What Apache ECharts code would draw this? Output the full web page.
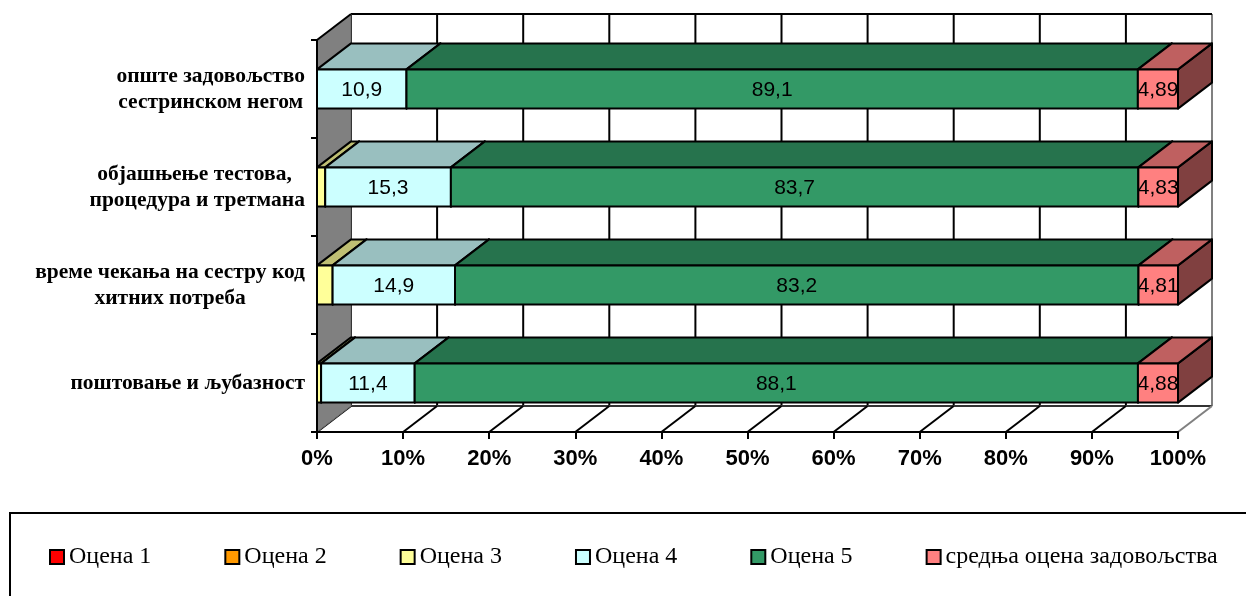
<!DOCTYPE html>
<html>
<head>
<meta charset="utf-8">
<script src="https://cdn.jsdelivr.net/npm/echarts@6/dist/echarts.min.js"></script>
<style>
  html, body { margin: 0; padding: 0; background: #fff; }
  #chart { width: 1246px; height: 596px; }
</style>
</head>
<body>
<div id="chart"></div>
<script>
// Categories, bottom to top
const categories = [
  'поштовање и љубазност',
  'време чекања на сестру код\nхитних потреба',
  'објашњење тестова, \nпроцедура и третмана',
  'опште задовољство\nсестринском негом'
];
const grade1 = [0, 0, 0, 0];
const grade2 = [0, 0, 0, 0];
const grade3 = [0.5, 1.9, 1.0, 0];
const grade4 = [11.4, 14.9, 15.3, 10.9];
const grade5 = [88.1, 83.2, 83.7, 89.1];
const meanScore = [4.88, 4.81, 4.83, 4.89];
const seriesNames = ['Оцена 1', 'Оцена 2', 'Оцена 3', 'Оцена 4', 'Оцена 5', 'средња оцена задовољства'];
const pctTicks = [0, 10, 20, 30, 40, 50, 60, 70, 80, 90, 100];

const seriesValues = [grade1, grade2, grade3, grade4, grade5, meanScore];
const faceColors = ['#FF0000', '#FF9900', '#FFFF99', '#CCFFFF', '#339966', '#FF8080'];
const showLabel = [false, false, false, true, true, true];

// depth of the 3D box (screen offset of the back plane)
const DX = 34, DY = -26;

function shade(hex, k) {
  const n = parseInt(hex.slice(1), 16);
  const r = Math.round(((n >> 16) & 255) * k), g = Math.round(((n >> 8) & 255) * k), b = Math.round((n & 255) * k);
  return 'rgb(' + r + ',' + g + ',' + b + ')';
}
const fmt = v => String(v).replace('.', ',');

// 100% stacking: each row normalised by its own total
const totals = categories.map((_, i) => seriesValues.reduce((s, arr) => s + arr[i], 0));
const segments = seriesValues.map(() => []);
categories.forEach((_, i) => {
  let acc = 0;
  seriesValues.forEach((arr, s) => {
    const p = arr[i] / totals[i] * 100;
    segments[s].push([acc, acc + p, i, arr[i]]);
    acc += p;
  });
});

function frameRenderer(params, api) {
  const cs = params.coordSys;
  const L = cs.x, T = cs.y, R = cs.x + cs.width, B = cs.y + cs.height;
  const black = { stroke: '#000', lineWidth: 2 };
  const grey = { stroke: '#808080', lineWidth: 2 };
  const kids = [];
  // back wall
  kids.push({ type: 'rect', shape: { x: L + DX, y: T + DY, width: R - L, height: B - T }, style: { fill: '#fff' } });
  pctTicks.forEach(v => {
    const x = api.coord([v, 0])[0];
    kids.push({ type: 'line', shape: { x1: x + DX, y1: T + DY, x2: x + DX, y2: B + DY }, style: v === 100 ? grey : black });
  });
  kids.push({ type: 'line', shape: { x1: L + DX, y1: T + DY, x2: R + DX, y2: T + DY }, style: black });
  // floor
  kids.push({ type: 'polygon', shape: { points: [[L, B], [R, B], [R + DX, B + DY], [L + DX, B + DY]] }, style: { fill: '#fff' } });
  kids.push({ type: 'line', shape: { x1: L + DX, y1: B + DY, x2: R + DX, y2: B + DY }, style: { stroke: '#333', lineWidth: 2 } });
  pctTicks.forEach(v => {
    const x = api.coord([v, 0])[0];
    kids.push({ type: 'line', shape: { x1: x, y1: B, x2: x + DX, y2: B + DY }, style: v === 100 ? grey : black });
  });
  // side wall
  kids.push({ type: 'polygon', shape: { points: [[L, T], [L + DX, T + DY], [L + DX, B + DY], [L, B]] }, style: { fill: '#808080', stroke: '#6a6a6a', lineWidth: 1 } });
  kids.push({ type: 'line', shape: { x1: L, y1: T, x2: L + DX, y2: T + DY }, style: black });
  return { type: 'group', children: kids };
}

function barRenderer(color, withLabel) {
  const topC = shade(color, 0.75), sideC = shade(color, 0.5);
  return function (params, api) {
    const a = api.value(0), b = api.value(1), c = api.value(2), v = api.value(3);
    if (!(b - a > 0)) return null;
    const p0 = api.coord([a, c]), p1 = api.coord([b, c]);
    const h = api.size([0, 1])[1] * 0.4;
    const x0 = p0[0], x1 = p1[0], yt = p0[1] - h / 2, yb = p0[1] + h / 2;
    const edge = { stroke: '#000', lineWidth: 2, lineJoin: 'round' };
    const kids = [
      { type: 'polygon', shape: { points: [[x1, yt], [x1 + DX, yt + DY], [x1 + DX, yb + DY], [x1, yb]] }, style: Object.assign({ fill: sideC }, edge) },
      { type: 'polygon', shape: { points: [[x0, yt], [x1, yt], [x1 + DX, yt + DY], [x0 + DX, yt + DY]] }, style: Object.assign({ fill: topC }, edge) },
      { type: 'rect', shape: { x: x0, y: yt, width: x1 - x0, height: h }, style: Object.assign({ fill: color }, edge) }
    ];
    if (withLabel) {
      kids.push({
        type: 'text', z2: 100,
        style: {
          text: fmt(v), x: (x0 + x1) / 2, y: p0[1] + 1, align: 'center', verticalAlign: 'middle',
          fontFamily: 'Liberation Sans', fontSize: 21, fill: '#000'
        }
      });
    }
    return { type: 'group', children: kids };
  };
}

const series = [{
  type: 'custom', name: 'frame', z: -5, silent: true,
  renderItem: frameRenderer,
  data: [[0, 0]], encode: { x: 0, y: 1 }
}];
seriesNames.forEach((name, s) => {
  series.push({
    type: 'custom', name: name, silent: true,
    itemStyle: { color: faceColors[s], borderColor: '#000', borderWidth: 2 },
    renderItem: barRenderer(faceColors[s], showLabel[s]),
    dimensions: ['from', 'to', 'cat', 'value'],
    encode: { x: [0, 1], y: 2 },
    data: segments[s]
  });
});

const chart = echarts.init(document.getElementById('chart'), null, { renderer: 'canvas' });
chart.setOption({
  animation: false,
  backgroundColor: '#fff',
  grid: { left: 317, right: 68, top: 40, bottom: 164, containLabel: false },
  xAxis: {
    type: 'value', min: 0, max: 100, interval: 10,
    axisLine: { show: true, lineStyle: { color: '#000', width: 2 } },
    axisTick: { show: true, length: 7, lineStyle: { color: '#000', width: 2 } },
    splitLine: { show: false },
    axisLabel: {
      formatter: '{value}%', margin: 16, color: '#000',
      fontFamily: 'Liberation Sans', fontWeight: 'bold', fontSize: 22
    }
  },
  yAxis: {
    type: 'category', data: categories,
    axisLine: { show: true, lineStyle: { color: '#000', width: 2 } },
    axisTick: { show: true, length: 6, alignWithLabel: false, lineStyle: { color: '#000', width: 2 } },
    splitLine: { show: false },
    axisLabel: {
      margin: 12, align: 'right',
      formatter: v => v.split('\n').map(s => '{c|' + s + '}').join('\n'),
      rich: {
        c: {
          align: 'center', fontFamily: 'Liberation Serif', fontWeight: 'bold',
          fontSize: 21.5, lineHeight: 26, color: '#000'
        }
      }
    }
  },
  legend: {
    data: seriesNames, left: 44, top: 540,
    icon: 'rect', itemWidth: 14, itemHeight: 14, itemGap: 73,
    itemStyle: { borderColor: '#000', borderWidth: 2 },
    textStyle: { fontFamily: 'Liberation Serif', fontSize: 24, color: '#000' },
    selectedMode: false
  },
  graphic: [{
    type: 'rect', silent: true,
    shape: { x: 10, y: 513, width: 1260, height: 120 },
    style: { fill: 'none', stroke: '#000', lineWidth: 2 }
  }],
  series: series
});
</script>
</body>
</html>
